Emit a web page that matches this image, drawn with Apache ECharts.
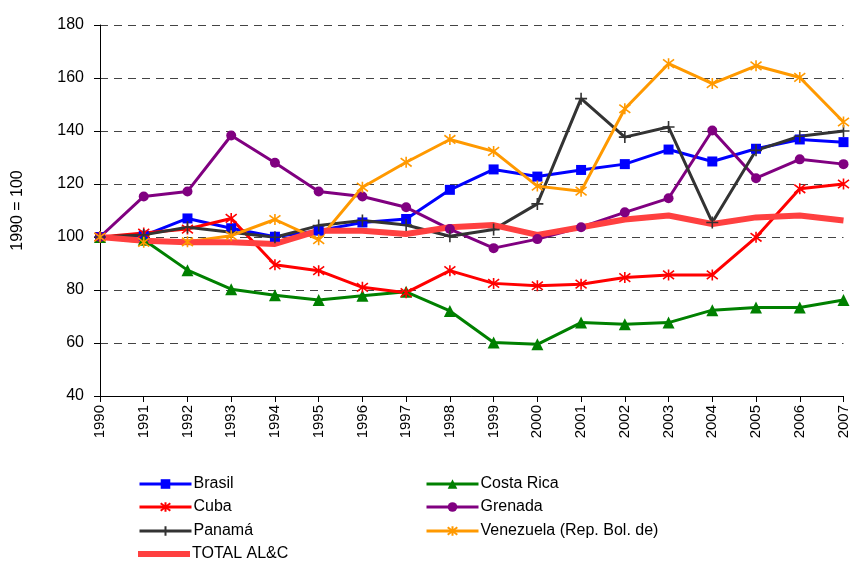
<!DOCTYPE html>
<html>
<head>
<meta charset="utf-8">
<script src="https://cdn.jsdelivr.net/npm/echarts@6/dist/echarts.min.js"></script>
<style>
html,body{margin:0;padding:0;background:#fff;}
#chart{width:851px;height:563px;}
</style>
</head>
<body>
<div id="chart"></div>
<script>
var years = ['1990','1991','1992','1993','1994','1995','1996','1997','1998','1999','2000','2001','2002','2003','2004','2005','2006','2007'];

var brasil     = [100,100.5,107,103.3,100.1,102.4,105.5,106.8,117.8,125.5,122.8,125.3,127.5,133,128.5,133.3,136.8,135.8];
var costaRica  = [100,99,87.5,80.3,78,76.2,77.8,79.3,72.1,60.2,59.5,67.7,67.1,67.7,72.4,73.4,73.4,76.2];
var cuba       = [100,101.5,103,107,89.5,87.3,81,79,87.3,82.5,81.6,82.2,84.7,85.7,85.7,99.9,118.2,120];
var grenada    = [100,115.3,117.2,138.3,128,117.2,115.3,111.2,103,95.8,99.2,103.7,109.3,114.6,140.2,122.2,129.3,127.5];
var panama     = [100,100.8,103.7,101.8,99.9,104.3,106.2,104.5,100.3,102.8,112.5,152.2,137.7,141.5,105.5,132.7,138,140];
var venezuela  = [100,98,98.2,100.5,106.6,99,118.8,128.2,136.8,132.3,119.2,117.3,148.4,165.4,157.9,164.6,160.2,143.4];
var totalALC   = [100,98.6,98,98,97.4,102.4,102.4,101.1,103.7,104.5,100.8,103.7,106.6,108.1,104.9,107.4,108.1,106.2];

var yTicks = [40,60,80,100,120,140,160,180];

var star = 'path://M-1,-1L1,1M-1,1L1,-1M0,-1.3L0,1.3';
var plus = 'path://M0,-1L0,1M-1,0L1,0';

function mk(name, data, color, symbol, size, stroke){
    return {
        name: name,
        type: 'line',
        data: data,
        symbol: symbol,
        symbolSize: size,
        showSymbol: true,
        lineStyle: {color: color, width: 3},
        itemStyle: {color: stroke ? 'none' : color, borderColor: color, borderWidth: stroke ? 1.6 : 0},
        emphasis: {disabled: true},
        animation: false
    };
}

var series = [
    mk('Brasil', brasil, '#0000ff', 'rect', 10, false),
    mk('Costa Rica', costaRica, '#008000', 'triangle', 12, false),
    mk('Cuba', cuba, '#ff0000', star, 11, true),
    mk('Grenada', grenada, '#800080', 'circle', 10, false),
    mk('Panamá', panama, '#333333', plus, 12, true),
    mk('Venezuela (Rep. Bol. de)', venezuela, '#ff9900', star, 11, true),
    {
        name: 'TOTAL AL&C',
        type: 'line',
        data: totalALC,
        symbol: 'none',
        lineStyle: {color: '#ff4040', width: 6},
        itemStyle: {color: '#ff4040'},
        emphasis: {disabled: true},
        animation: false
    }
];

var font = '"Liberation Sans", Arial, sans-serif';

// one legend per entry so each sits where it does in the picture
var legendSpots = [
    ['Brasil', 138, 484], ['Cuba', 138, 507], ['Panamá', 138, 531], ['TOTAL AL&C', 138, 554],
    ['Costa Rica', 425, 484], ['Grenada', 425, 507], ['Venezuela (Rep. Bol. de)', 425, 531]
];
var legends = legendSpots.map(function(s){
    var isTotal = s[0] === 'TOTAL AL&C';
    return {
        left: s[1],
        top: s[2] - 10,
        padding: 0,
        itemWidth: 52,
        itemHeight: isTotal ? 6 : 12,
        lineStyle: {width: 3},
        data: [isTotal ? {name: s[0], icon: 'rect'} : s[0]],
        textStyle: {color: '#000', fontSize: 16, fontFamily: font, padding: [0, 0, 0, -3], lineHeight: 20}
    };
});

var option = {
    backgroundColor: '#fff',
    animation: false,
    grid: {left: 100, right: 6, top: 25, bottom: 167},
    xAxis: {
        type: 'category',
        data: years,
        boundaryGap: false,
        axisLine: {lineStyle: {color: '#000', width: 1}},
        axisTick: {show: true, inside: false, length: 6, lineStyle: {color: '#000'}},
        axisLabel: {rotate: 90, color: '#000', fontSize: 15, fontFamily: font, margin: 9, interval: 0}
    },
    yAxis: {
        type: 'value',
        min: 40,
        max: 180,
        interval: 20,
        name: '1990 = 100',
        nameLocation: 'middle',
        nameGap: 74,
        nameRotate: 90,
        nameTextStyle: {color: '#000', fontSize: 16, fontFamily: font},
        axisLine: {show: true, lineStyle: {color: '#000', width: 1}},
        axisTick: {show: true, length: 6, lineStyle: {color: '#000'}},
        axisLabel: {color: '#000', fontSize: 16, fontFamily: font, margin: 16,
            formatter: function(v){ return yTicks.indexOf(v) >= 0 ? String(v) : ''; }},
        splitLine: {show: true, lineStyle: {color: '#444', type: [8, 6], width: 1}}
    },
    legend: legends,
    series: series
};

var myChart = echarts.init(document.getElementById('chart'), null, {renderer: 'canvas'});
myChart.setOption(option);
</script>
</body>
</html>
